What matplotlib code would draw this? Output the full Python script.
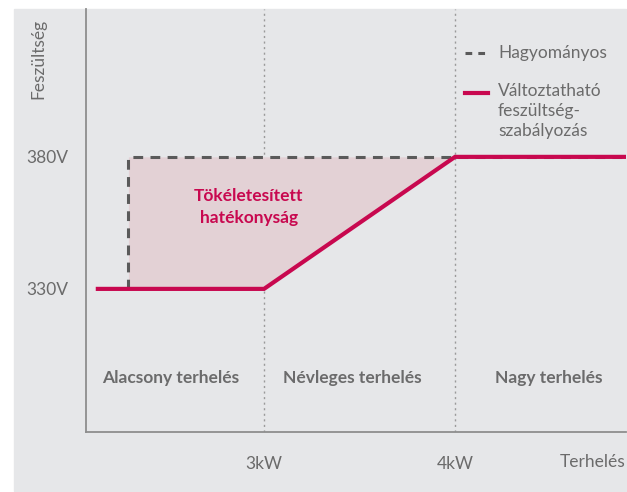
import matplotlib.pyplot as plt
from matplotlib.patches import Rectangle
from matplotlib.transforms import blended_transform_factory

# Load (kW) vs. supply voltage (V)
vsr_load = [2.13, 3.0, 4.0, 4.9]
vsr_voltage = [330, 330, 380, 380]
conv_load = [2.29, 2.29, 4.9]
conv_voltage = [330, 380, 380]
gain_load = [2.29, 3.0, 4.0]
gain_low = [330, 330, 380]
gain_high = [380, 380, 380]

load_ticks = [3, 4]
load_labels = ["3kW", "4kW"]
volt_ticks = [330, 380]
volt_labels = ["330V", "380V"]
region_names = ["Alacsony terhelés", "Névleges terhelés", "Nagy terhelés"]
region_x = [2.51, 3.46, 4.49]

RED = "#c8084f"
GREY_TXT = "#6b6b6b"
BG = "#e6e7e9"

plt.rcParams["font.family"] = ["Lato", "DejaVu Sans"]

fig = plt.figure(figsize=(6.27, 4.92), dpi=100)
fig.patches.append(Rectangle((14 / 627, 1 / 492), 612 / 627, 482 / 492,
                             transform=fig.transFigure, color=BG, zorder=-10))

ax = fig.add_axes([86 / 627, 60 / 492, 540 / 627, 423 / 492])
ax.set_facecolor("none")
ax.set_xlim(2.068, 4.895)
ax.set_ylim(275.8, 436)

for s in ["top", "right"]:
    ax.spines[s].set_visible(False)
for s in ["left", "bottom"]:
    ax.spines[s].set_color("#8e8e8e")
    ax.spines[s].set_linewidth(1.3)

for x in load_ticks:
    ax.axvline(x, color="#9a9a9a", lw=1.0, ls=(0, (1.5, 2.5)), zorder=1)

ax.fill_between(gain_load, gain_low, gain_high, color="#e3d1d5", lw=0, zorder=2)
ax.plot(conv_load, conv_voltage, color="#5a5a5a", lw=2.2, ls=(0, (3.2, 2.4)),
        zorder=3, solid_capstyle="butt")
ax.plot(vsr_load, vsr_voltage, color=RED, lw=3.0, zorder=4, solid_joinstyle="miter")

ax.set_xticks(load_ticks, load_labels)
ax.set_yticks(volt_ticks, volt_labels)
ax.tick_params(axis="x", length=0, pad=17, labelsize=12.5, labelcolor=GREY_TXT)
ax.tick_params(axis="y", length=0, pad=13, labelsize=12.5, labelcolor=GREY_TXT)

ax.text(1.0, -0.071, "Terhelés", transform=ax.transAxes, ha="right", va="center",
        fontsize=12.5, color=GREY_TXT)
ax.text(-0.089, 0.977, "Feszültség", transform=ax.transAxes, rotation=90,
        ha="center", va="top", fontsize=12.5, color=GREY_TXT)

trans = blended_transform_factory(ax.transData, ax.transAxes)
for name, x in zip(region_names, region_x):
    ax.text(x, 0.128, name, transform=trans, ha="center", va="center",
            fontsize=12.5, color="#5e5e5e", fontweight="bold", alpha=0.9)

ax.text(2.92, 361, "Tökéletesített\nhatékonyság", ha="center", va="center",
        fontsize=12.5, color=RED, fontweight="bold", linespacing=1.5, zorder=5)

# legend drawn by hand so the red sample sits on the first line of its label
ax.plot([0.702, 0.744], [0.896, 0.896], transform=ax.transAxes, color="#5a5a5a",
        lw=2.2, ls=(0, (2.2, 2.0)), clip_on=False)
ax.plot([0.702, 0.744], [0.801, 0.801], transform=ax.transAxes, color=RED,
        lw=3.0, clip_on=False)
ax.text(0.763, 0.896, "Hagyományos", transform=ax.transAxes, ha="left",
        va="center", fontsize=12.5, color=GREY_TXT)
ax.text(0.763, 0.825, "Változtatható\nfeszültség-\nszabályozás", transform=ax.transAxes,
        ha="left", va="top", fontsize=12.5, color=GREY_TXT, linespacing=1.3)

fig.savefig("out.png", dpi=100, facecolor="white")
